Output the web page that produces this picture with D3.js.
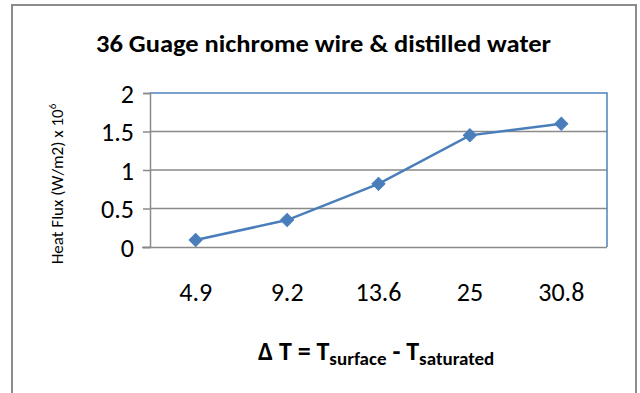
<!DOCTYPE html>
<html><head><meta charset="utf-8">
<script src="https://cdn.jsdelivr.net/npm/d3@7"></script>
<style>body{margin:0;background:#fff}svg{display:block}</style>
</head><body>
<script>
const categories = ["4.9", "9.2", "13.6", "25", "30.8"];
const heatFlux = [0.09, 0.35, 0.82, 1.45, 1.60];
const yTicks = [0, 0.5, 1, 1.5, 2];
const titleText = "36 Guage nichrome wire & distilled water";

const W = 640, H = 393;
const svg = d3.select("body").append("svg").attr("width", W).attr("height", H);
const font = "Carlito, Calibri, 'Open Sans', 'Liberation Sans', sans-serif";

// outer frame
svg.append("rect").attr("x", 12).attr("y", 5).attr("width", 624).attr("height", 400)
  .attr("fill", "#fff").attr("stroke", "#8c8c8c").attr("stroke-width", 2);

const m = {left: 150, right: 607, top: 93, bottom: 247};
const x = d3.scaleBand().domain(categories).range([m.left, m.right]);
const y = d3.scaleLinear().domain([0, 2]).range([m.bottom, m.top]);

// gridlines
svg.append("g").selectAll("line").data(yTicks.filter(t => t > 0 && t < 2)).join("line")
  .attr("x1", m.left).attr("x2", m.right).attr("y1", d => y(d)).attr("y2", d => y(d))
  .attr("stroke", "#8a8a8a").attr("stroke-width", 1.5);

// plot border top/right (blue)
svg.append("path").attr("d", `M${m.left},${y(2)}H${m.right}V${m.bottom}`)
  .attr("fill", "none").attr("stroke", "#4f81bd").attr("stroke-width", 1.5);

// y axis
const yAxis = svg.append("g").attr("transform", `translate(${m.left},0)`)
  .call(d3.axisLeft(y).tickValues(yTicks).tickSize(7).tickPadding(9).tickFormat(d3.format("")));
yAxis.select(".domain").attr("stroke", "#8a8a8a").attr("stroke-width", 1.5);
yAxis.selectAll(".tick line").attr("stroke", "#8a8a8a").attr("stroke-width", 1.5);
yAxis.selectAll("text").attr("font-family", font).attr("font-size", 26).attr("fill", "#000")
  .attr("dy", "0.35em");

// x axis
const xAxis = svg.append("g").attr("transform", `translate(0,${m.bottom})`)
  .call(d3.axisBottom(x).tickSize(0).tickPadding(0));
xAxis.select(".domain").attr("d", `M${m.left - 8},0.5H${m.right}`)
  .attr("stroke", "#8a8a8a").attr("stroke-width", 1.5);
xAxis.selectAll("text").attr("font-family", font).attr("font-size", 26).attr("fill", "#000")
  .attr("y", 54).attr("dy", 0);

// line + markers
const cx = d => x(d) + x.bandwidth() / 2;
svg.append("path").datum(heatFlux)
  .attr("d", d3.line().x((d, i) => cx(categories[i])).y(d => y(d)))
  .attr("fill", "none").attr("stroke", "#4a7ebb").attr("stroke-width", 2.5);
svg.append("g").selectAll("path").data(heatFlux).join("path")
  .attr("d", d3.symbol(d3.symbolSquare, 85))
  .attr("transform", (d, i) => `translate(${cx(categories[i])},${y(d)}) rotate(45)`)
  .attr("fill", "#4a7ebb").attr("stroke", "#4a7ebb").attr("stroke-width", 1);

// title
svg.append("text").attr("x", 96).attr("y", 52).attr("font-family", font)
  .attr("font-weight", "bold").attr("font-size", 24).attr("fill", "#000")
  .attr("textLength", 455).attr("lengthAdjust", "spacingAndGlyphs").text(titleText);

// y label
const yl = svg.append("text").attr("transform", "translate(63,184) rotate(-90)")
  .attr("text-anchor", "middle").attr("font-family", font).attr("font-size", 17).attr("fill", "#000");
yl.append("tspan").text("Heat Flux (W/m2) x 10");
yl.append("tspan").attr("font-size", 11).attr("dy", -7).text("6");

// x label
const xl = svg.append("text").attr("x", 258).attr("y", 360).attr("font-family", font)
  .attr("font-weight", "bold").attr("font-size", 26).attr("fill", "#000");
xl.append("tspan").text("\u0394 T = T");
xl.append("tspan").attr("font-size", 19).attr("dy", 5).text("surface");
xl.append("tspan").attr("dy", -5).text(" - T");
xl.append("tspan").attr("font-size", 19).attr("dy", 5).text("saturated");
</script>
</body></html>
